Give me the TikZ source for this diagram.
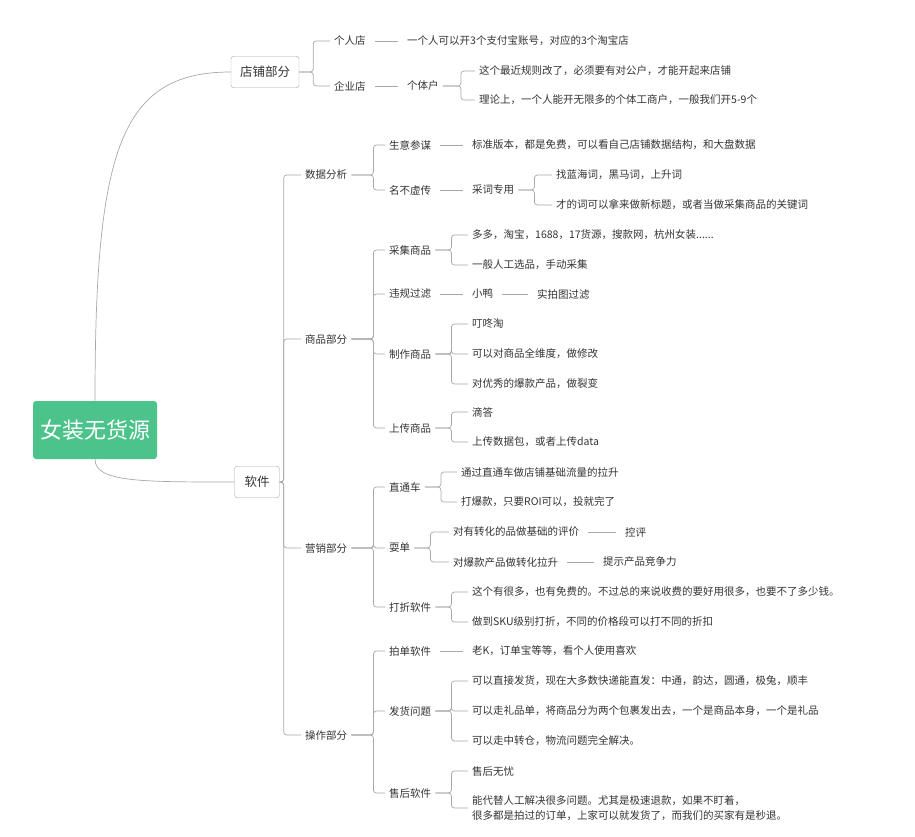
\documentclass[tikz,border=0pt]{standalone}
\usepackage{fontspec}
\setmainfont{Noto Sans CJK SC}
\usetikzlibrary{calc}
\definecolor{ln}{HTML}{A8A8A8}
\definecolor{tx}{HTML}{333333}
\definecolor{gr}{HTML}{4CC38A}
\tikzset{
 t/.style={anchor=west,inner sep=4pt,font=\fontsize{10.5}{15}\selectfont,text=tx},
 lv/.style={draw=ln,rounded corners=3pt,fill=white,inner xsep=9pt,inner ysep=10pt,font=\fontsize{12.5}{14}\selectfont,text=tx},
 c/.style={draw=ln,line width=0.7pt,rounded corners=3pt},
}
\newcommand{\br}[3]{\foreach \k in {#3}{\draw[c] (#1.east) -- ($(#1.east)+(#2,0)$) |- (\k.west);}}
\newcommand{\lk}[2]{\draw[c,shorten <=5pt,shorten >=5pt] (#1.east) -- (#2.west);}
\begin{document}
\begin{tikzpicture}[x=1pt,y=-1pt]
\useasboundingbox (0,0) rectangle (915,836);
\node[fill=gr,rounded corners=3pt,minimum width=124pt,minimum height=58pt,text=white,font=\fontsize{22}{24}\selectfont] (root) at (95,430) {女装无货源};
\node[lv] (dp) at (265,72) {店铺部分};
\node[lv,inner xsep=10pt] (rj) at (257,482) {软件};
\draw[ln,line width=0.7pt] (root.north) .. controls (95,150) and (120,72) .. (dp.west);
\draw[ln,line width=0.7pt] (root.south) .. controls (95,482) and (140,482) .. (rj.west);
% shop
\node[t] (a1) at (330,41) {个人店};
\node[t] (a2) at (330,86) {企业店};
\node[t] (a11) at (403,41) {一个人可以开3个支付宝账号，对应的3个淘宝店};
\node[t] (a21) at (403,86) {个体户};
\node[t] (a211) at (475,71) {这个最近规则改了，必须要有对公户，才能开起来店铺};
\node[t] (a212) at (475,100) {理论上，一个人能开无限多的个体工商户，一般我们开5-9个};
\br{dp}{14}{a1,a2}
\lk{a1}{a11}\lk{a2}{a21}
\br{a21}{18}{a211,a212}
% software
\node[t] (b1) at (301,175) {数据分析};
\node[t] (b2) at (301,339) {商品部分};
\node[t] (b3) at (301,548) {营销部分};
\node[t] (b4) at (301,735) {操作部分};
\br{rj}{4}{b1,b2,b3,b4}
% data
\node[t] (c1) at (385,145) {生意参谋};
\node[t] (c2) at (385,190) {名不虚传};
\br{b1}{22}{c1,c2}
\node[t] (c11) at (468,145) {标准版本，都是免费，可以看自己店铺数据结构，和大盘数据};
\lk{c1}{c11}
\node[t] (c21) at (468,190) {采词专用};
\lk{c2}{c21}
\node[t] (c211) at (552,175) {找蓝海词，黑马词，上升词};
\node[t] (c212) at (552,205) {才的词可以拿来做新标题，或者当做采集商品的关键词};
\br{c21}{16}{c211,c212}
% goods
\node[t] (d1) at (385,250) {采集商品};
\node[t] (d2) at (385,294) {违规过滤};
\node[t] (d3) at (385,354) {制作商品};
\node[t] (d4) at (385,428) {上传商品};
\br{b2}{22}{d1,d2,d3,d4}
\node[t] (d11) at (468,235) {多多，淘宝，1688，17货源，搜款网，杭州女装......};
\node[t] (d12) at (468,265) {一般人工选品，手动采集};
\br{d1}{16}{d11,d12}
\node[t] (d21) at (468,294) {小鸭};
\node[t] (d22) at (533,294) {实拍图过滤};
\lk{d2}{d21}\lk{d21}{d22}
\node[t] (d31) at (468,324) {叮咚淘};
\node[t] (d32) at (468,354) {可以对商品全维度，做修改};
\node[t] (d33) at (468,384) {对优秀的爆款产品，做裂变};
\br{d3}{16}{d31,d32,d33}
\node[t] (d41) at (468,412) {滴答};
\node[t] (d42) at (468,442) {上传数据包，或者上传data};
\br{d4}{16}{d41,d42}
% marketing
\node[t] (e1) at (385,487) {直通车};
\node[t] (e2) at (385,548) {耍单};
\node[t] (e3) at (385,607) {打折软件};
\br{b3}{22}{e1,e2,e3}
\node[t] (e11) at (457,472) {通过直通车做店铺基础流量的拉升};
\node[t] (e12) at (457,502) {打爆款，只要ROI可以，投就完了};
\br{e1}{16}{e11,e12}
\node[t] (e21) at (449,532) {对有转化的品做基础的评价};
\node[t] (e22) at (449,562) {对爆款产品做转化拉升};
\br{e2}{16}{e21,e22}
\node[t] (e211) at (621,532) {控评};
\node[t] (e221) at (599,562) {提示产品竞争力};
\lk{e21}{e211}\lk{e22}{e221}
\node[t] (e31) at (468,592) {这个有很多，也有免费的。不过总的来说收费的要好用很多，也要不了多少钱。};
\node[t] (e32) at (468,622) {做到SKU级别打折，不同的价格段可以打不同的折扣};
\br{e3}{16}{e31,e32}
% operations
\node[t] (f1) at (385,651) {拍单软件};
\node[t] (f2) at (385,711) {发货问题};
\node[t] (f3) at (385,793) {售后软件};
\br{b4}{22}{f1,f2,f3}
\node[t] (f11) at (468,651) {老K，订单宝等等，看个人使用喜欢};
\lk{f1}{f11}
\node[t] (f21) at (468,681) {可以直接发货，现在大多数快递能直发：中通，韵达，圆通，极兔，顺丰};
\node[t] (f22) at (468,711) {可以走礼品单，将商品分为两个包裹发出去，一个是商品本身，一个是礼品};
\node[t] (f23) at (468,741) {可以走中转仓，物流问题完全解决。};
\br{f2}{16}{f21,f22,f23}
\node[t] (f31) at (468,771) {售后无忧};
\node[t,align=left] (f32) at (468,808) {能代替人工解决很多问题。尤其是极速退款，如果不盯着，\\很多都是拍过的订单，上家可以就发货了，而我们的买家有是秒退。};
\br{f3}{16}{f31,f32}
\end{tikzpicture}
\end{document}
